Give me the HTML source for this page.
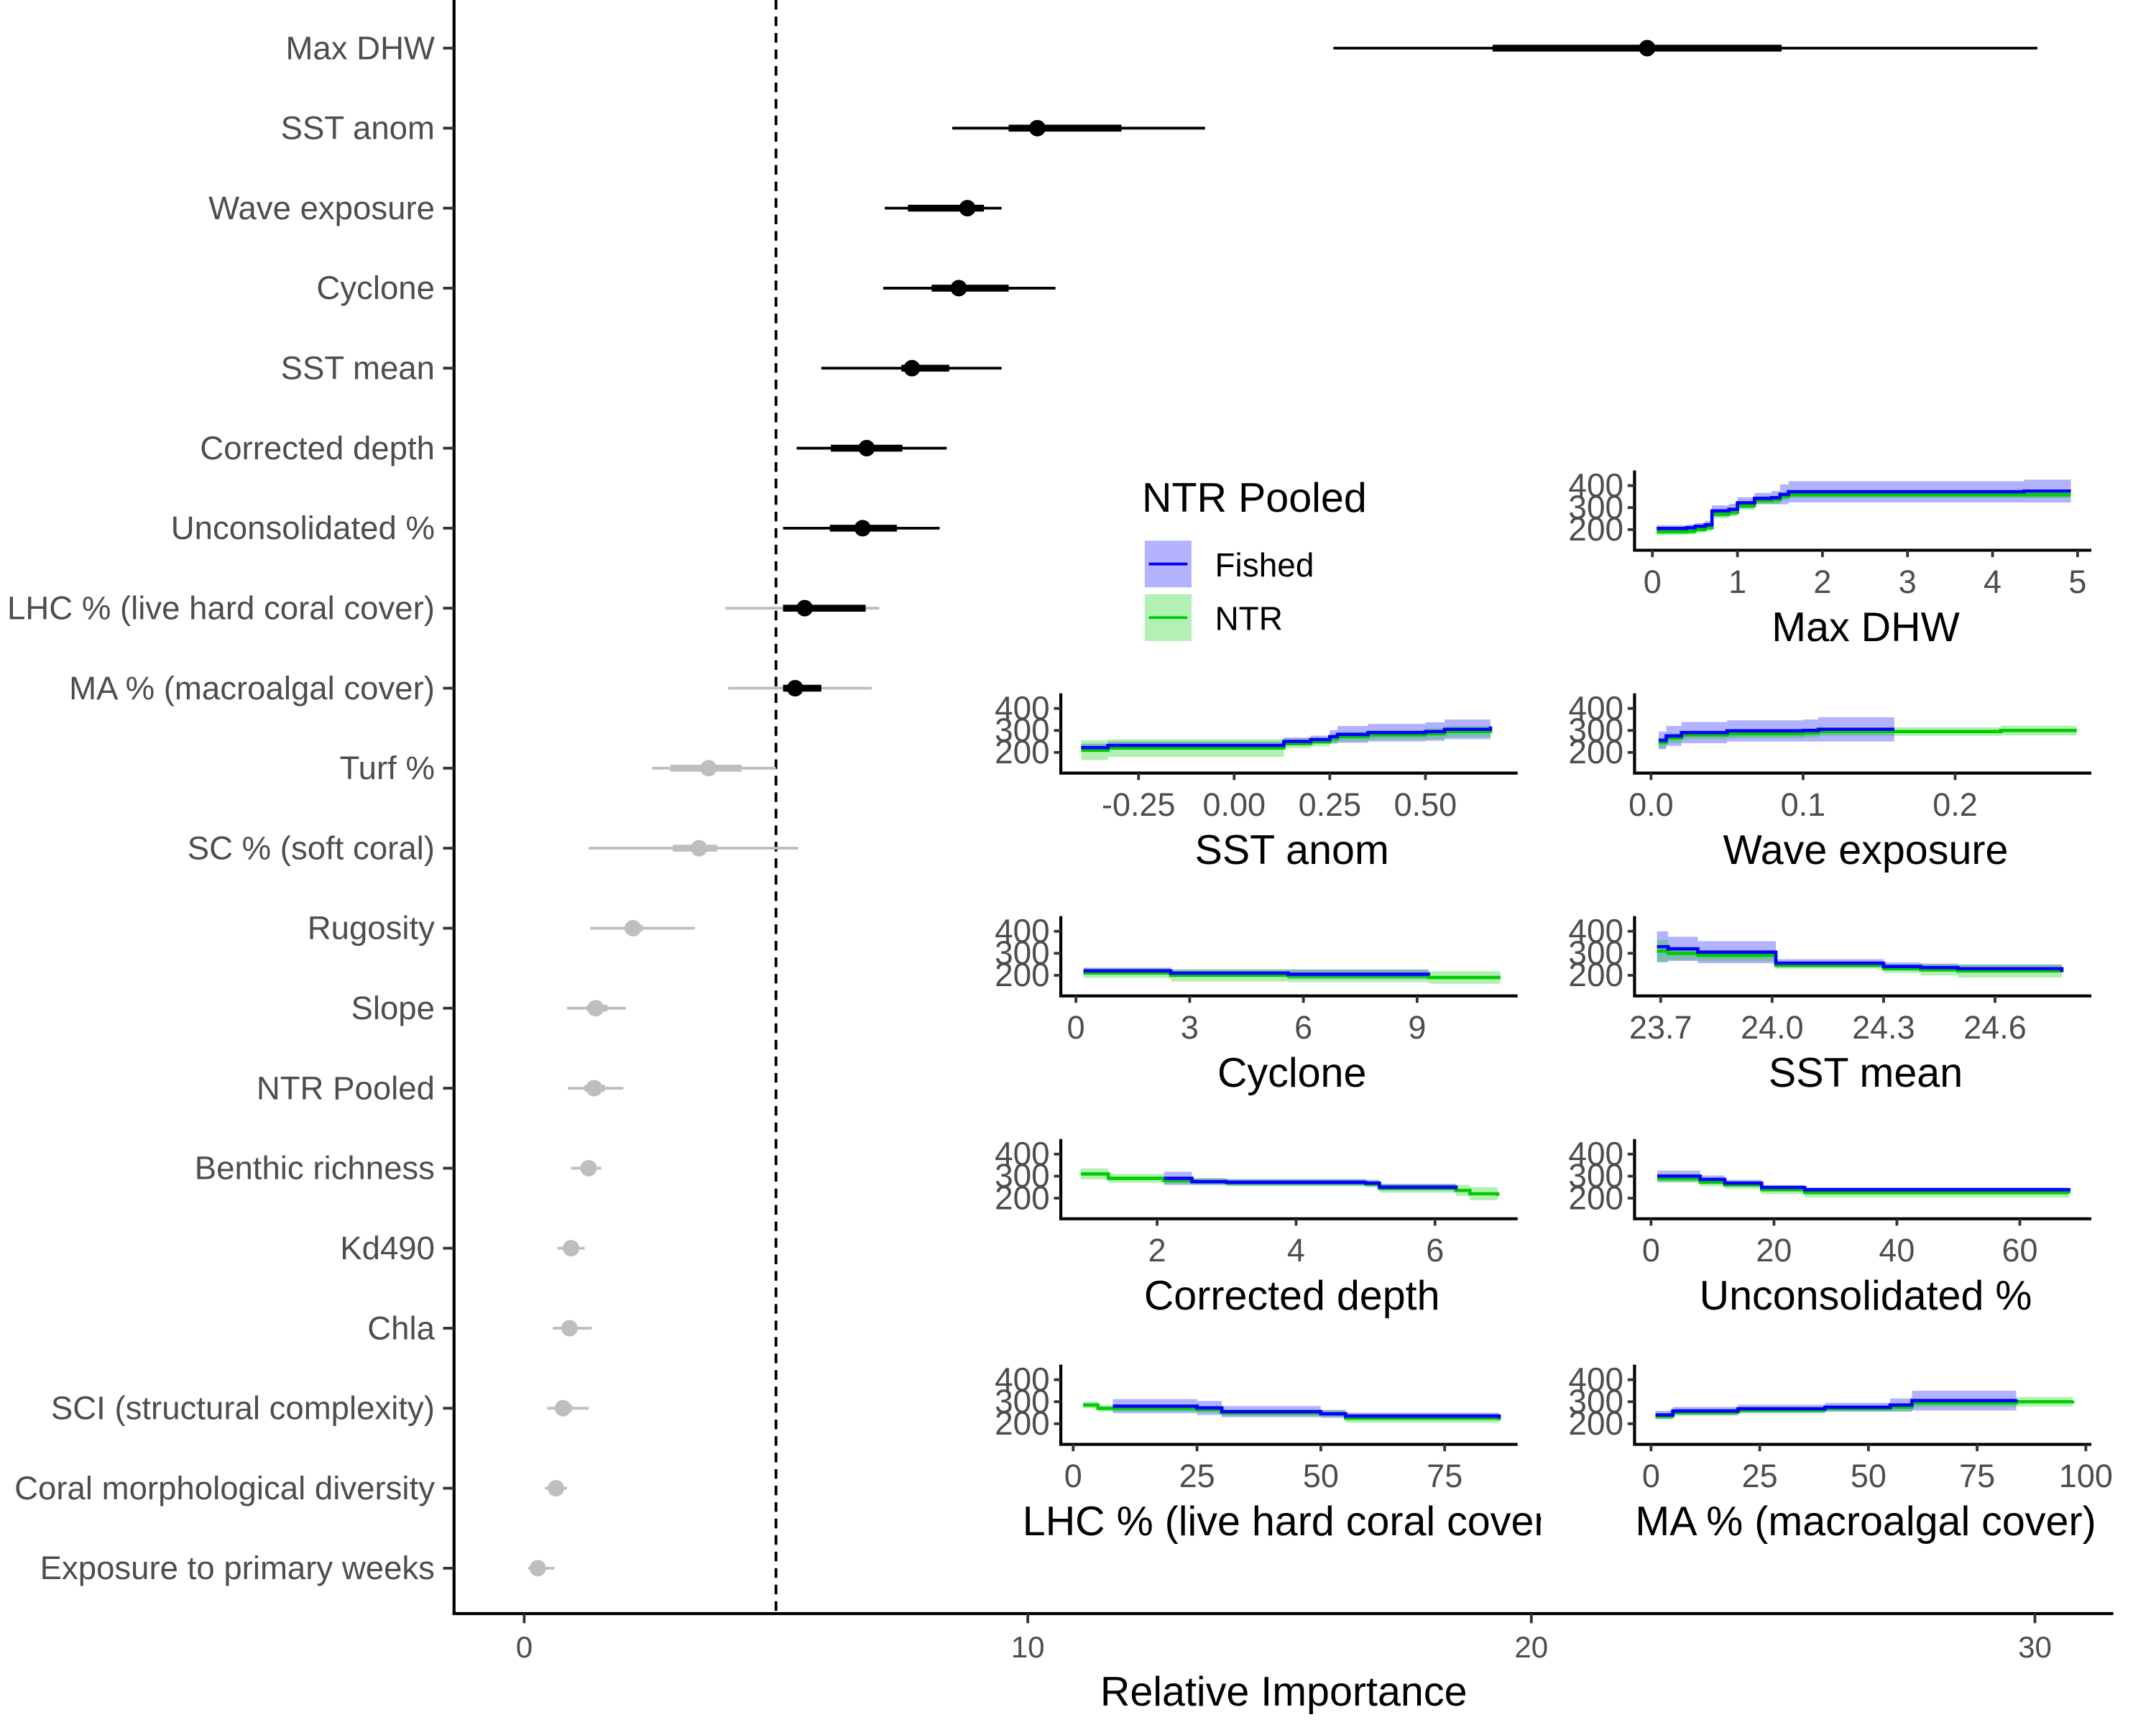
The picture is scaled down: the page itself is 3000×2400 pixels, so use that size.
<!DOCTYPE html>
<html><head><meta charset="utf-8"><style>
html,body{margin:0;padding:0;background:#fff;}
svg{display:block;font-family:"Liberation Sans",sans-serif;}
</style></head><body>
<svg id="chart" width="3000" height="2400" viewBox="0 0 1567 1254" preserveAspectRatio="none" xmlns="http://www.w3.org/2000/svg"></svg>
<script>
// ===== Main chart data =====
const varNames = ["Max DHW","SST anom","Wave exposure","Cyclone","SST mean","Corrected depth","Unconsolidated %","LHC % (live hard coral cover)","MA % (macroalgal cover)","Turf %","SC % (soft coral)","Rugosity","Slope","NTR Pooled","Benthic richness","Kd490","Chla","SCI (structural complexity)","Coral morphological diversity","Exposure to primary weeks"];
const importance = [22.3,10.19,8.8,8.63,7.7,6.8,6.72,5.57,5.38,3.66,3.47,2.16,1.42,1.39,1.28,0.93,0.9,0.77,0.63,0.27];
const innerLo = [19.23,9.62,7.62,8.09,7.49,6.09,6.07,5.14,5.14,2.9,2.95,2.0,1.25,1.2,1.15,0.8,0.78,0.62,0.52,0.18];
const innerHi = [24.97,11.86,9.13,9.62,8.44,7.51,7.4,6.78,5.9,4.32,3.83,2.35,1.65,1.6,1.42,1.08,1.05,0.95,0.75,0.4];
const outerLo = [16.07,8.5,7.16,7.13,5.9,5.41,5.14,3.99,4.05,2.54,1.28,1.31,0.85,0.87,0.93,0.66,0.57,0.46,0.41,0.08];
const outerHi = [30.05,13.52,9.48,10.55,9.48,8.39,8.25,7.05,6.9,5.0,5.44,3.39,2.02,1.97,1.53,1.2,1.34,1.28,0.85,0.6];
const xTicks = [0,10,20,30];
const threshold = 5;

// ===== Inset partial-dependence data =====
const dhwX = [0.05,0.4,0.5,0.62,0.7,0.9,1.0,1.2,1.4,1.5,1.6,2.5,4.37,4.92];
const dhwFished = [205,208,215,222,285,292,322,342,345,360,372,372,375,375];
const dhwFishedW = [15,15,15,18,25,25,25,25,30,45,48,48,52,52];
const dhwNtr = [190,192,200,208,270,278,308,332,335,350,358,358,358,358];
const dhwNtrW = [15,15,15,15,18,18,18,18,18,18,15,15,15,15];

const anomX = [-0.4,-0.33,0.1,0.13,0.2,0.25,0.27,0.35,0.5,0.55,0.66,0.67];
const anomFished = [222,232,232,250,258,272,282,290,295,305,305,318];
const anomFishedW = [18,18,18,18,18,30,38,40,42,45,45,55];
const anomNtr = [210,220,220,240,248,262,272,280,285,295,295,300];
const anomNtrW = [45,40,40,20,20,22,22,22,25,25,25,25];

const waveX = [0.005,0.01,0.02,0.05,0.1,0.11,0.16,0.2,0.23,0.28];
const waveFished = [255,275,290,298,300,305,305,null,null,null];
const waveFishedW = [40,45,48,48,50,55,55,0,0,0];
const waveNtr = [245,265,280,285,288,295,295,295,300,300];
const waveNtrW = [25,22,20,20,20,20,20,20,22,22];

const cycX = [0.2,2.5,5.6,9.3,11.2];
const cycFished = [220,210,205,200,null];
const cycFishedW = [15,15,22,25,0];
const cycNtr = [210,200,197,190,190];
const cycNtrW = [22,28,28,28,28];

const sstX = [23.69,23.72,23.8,24.0,24.01,24.3,24.4,24.5,24.78];
const sstFished = [330,320,305,305,255,240,235,230,215];
const sstFishedW = [70,55,50,50,18,18,18,18,25];
const sstNtr = [310,300,290,290,245,230,225,220,220];
const sstNtrW = [50,30,25,25,15,20,25,30,30];

const depthX = [0.9,1.3,2.1,2.5,3,5,5.2,6.3,6.5,6.9];
const depthFished = [null,null,290,275,272,268,250,240,null,null];
const depthFishedW = [0,0,30,15,15,15,15,15,0,0];
const depthNtr = [310,290,280,275,270,265,245,235,220,210];
const depthNtrW = [25,20,15,15,15,15,20,25,30,30];

const unconX = [1,8,12,18,25,68];
const unconFished = [300,285,268,248,238,232];
const unconFishedW = [25,18,15,12,10,12];
const unconNtr = [290,272,260,238,225,222];
const unconNtrW = [20,18,18,20,22,22];

const lhcX = [2,5,8,25,30,50,55,86];
const lhcFished = [null,null,280,272,255,245,235,225];
const lhcFishedW = [0,0,32,32,25,18,15,15];
const lhcNtr = [285,270,270,265,250,245,225,215];
const lhcNtrW = [15,15,15,15,15,15,20,25];

const maX = [1,5,20,40,55,60,84,97];
const maFished = [240,258,268,275,285,305,310,null];
const maFishedW = [18,18,18,20,30,45,48,0];
const maNtr = [235,252,262,270,275,295,300,305];
const maNtrW = [15,15,15,15,18,20,22,22];

const svg = document.getElementById('chart');
const NS = 'http://www.w3.org/2000/svg';
function mk(tag, attrs, parent, text){
  const e = document.createElementNS(NS, tag);
  for (const k in attrs) e.setAttribute(k, attrs[k]);
  if (text !== undefined) e.textContent = text;
  (parent || svg).appendChild(e);
  return e;
}

// ===== main axes =====
const xScale = v => 381 + v * 36.6;
const yRow = i => 35 + i * 58.16;

const dashed = mk('line',{x1:xScale(threshold),x2:xScale(threshold),y1:0,y2:1173,stroke:'#000','stroke-width':2,'stroke-dasharray':'7,5'});



const yAxis = mk('line',{x1:330,x2:330,y1:0,y2:1174,stroke:'#000','stroke-width':2.2});


const xAxis = mk('line',{x1:329,x2:1536,y1:1173,y2:1173,stroke:'#000','stroke-width':2.2});



xTicks.forEach(t=>{
  const tk = mk('line',{x1:xScale(t),x2:xScale(t),y1:1173,y2:1180,stroke:'#333','stroke-width':2});
  
  
  const lb = mk('text',{x:xScale(t),y:1205,'text-anchor':'middle','font-size':22,fill:'#4d4d4d'},null,String(t));
  
  
});
const xt = mk('text',{x:933,y:1240,'text-anchor':'middle','font-size':30,fill:'#000'},null,'Relative Importance');



varNames.forEach((n,i)=>{
  const y = yRow(i);
  const lb = mk('text',{x:316,y:y+8,'text-anchor':'end','font-size':23.8,fill:'#4d4d4d'},null,n);
  
  
  const tk = mk('line',{x1:322,x2:330,y1:y,y2:y,stroke:'#333','stroke-width':2});
  
  
  const strong = outerLo[i] > threshold;
  const thickBlack = innerLo[i] > threshold;
  const ptBlack = importance[i] > threshold;
  const gray = '#bebebe';
  const o = mk('line',{x1:xScale(outerLo[i]),x2:xScale(outerHi[i]),y1:y,y2:y,stroke:strong?'#000':gray,'stroke-width':2});
  
  
  const inn = mk('line',{x1:xScale(innerLo[i]),x2:xScale(innerHi[i]),y1:y,y2:y,stroke:thickBlack?'#000':gray,'stroke-width':5});
  
  
  const p = mk('circle',{cx:xScale(importance[i]),cy:y,r:(ptBlack && !thickBlack)?4.5:6,fill:ptBlack?'#000':gray});
  
  
});

// ===== legend =====
const lg = mk('g',{});


mk('text',{x:830,y:372,'font-size':30,fill:'#000'},lg,'NTR Pooled');
[['Fished','#b3b3ff','#0000ff',393],['NTR','#b3f0b3','#00cd00',432]].forEach(r=>{
  const g = mk('g',{},lg);
  
  
  mk('rect',{x:832,y:r[3],width:34,height:34,fill:r[1]},g);
  mk('line',{x1:835,x2:863,y1:r[3]+17,y2:r[3]+17,stroke:r[2],'stroke-width':2},g);
  mk('text',{x:883,y:r[3]+26,'font-size':24,fill:'#000'},g,r[0]);
});

// ===== inset panels =====
const panels = [
  {name:'max-dhw',title:'Max DHW',ax:1188,ab:400,xr:1520,x0:0,x1:5,p0:1201,p1:1510,ticks:[0,1,2,3,4,5],fmt:t=>String(t),X:dhwX,F:dhwFished,FW:dhwFishedW,N:dhwNtr,NW:dhwNtrW},
  {name:'sst-anom',title:'SST anom',ax:771,ab:562,xr:1103,x0:0,x1:0.5,p0:897,p1:1036,ticks:[-0.25,0,0.25,0.5],fmt:t=>t.toFixed(2),X:anomX,F:anomFished,FW:anomFishedW,N:anomNtr,NW:anomNtrW},
  {name:'wave-exposure',title:'Wave exposure',ax:1188,ab:562,xr:1520,x0:0,x1:0.2,p0:1200,p1:1421,ticks:[0,0.1,0.2],fmt:t=>t.toFixed(1),X:waveX,F:waveFished,FW:waveFishedW,N:waveNtr,NW:waveNtrW},
  {name:'cyclone',title:'Cyclone',ax:771,ab:724,xr:1103,x0:0,x1:9,p0:782,p1:1030,ticks:[0,3,6,9],fmt:t=>String(t),X:cycX,F:cycFished,FW:cycFishedW,N:cycNtr,NW:cycNtrW},
  {name:'sst-mean',title:'SST mean',ax:1188,ab:724,xr:1520,x0:23.7,x1:24.6,p0:1207,p1:1450,ticks:[23.7,24.0,24.3,24.6],fmt:t=>t.toFixed(1),X:sstX,F:sstFished,FW:sstFishedW,N:sstNtr,NW:sstNtrW},
  {name:'corrected-depth',title:'Corrected depth',ax:771,ab:886,xr:1103,x0:2,x1:6,p0:841,p1:1043,ticks:[2,4,6],fmt:t=>String(t),X:depthX,F:depthFished,FW:depthFishedW,N:depthNtr,NW:depthNtrW},
  {name:'unconsolidated',title:'Unconsolidated %',ax:1188,ab:886,xr:1520,x0:0,x1:60,p0:1200,p1:1468,ticks:[0,20,40,60],fmt:t=>String(t),X:unconX,F:unconFished,FW:unconFishedW,N:unconNtr,NW:unconNtrW},
  {name:'lhc',title:'LHC % (live hard coral cover)',ax:771,ab:1050,xr:1103,x0:0,x1:75,p0:780,p1:1050,ticks:[0,25,50,75],fmt:t=>String(t),X:lhcX,F:lhcFished,FW:lhcFishedW,N:lhcNtr,NW:lhcNtrW,clip:1120},
  {name:'ma',title:'MA % (macroalgal cover)',ax:1188,ab:1050,xr:1520,x0:0,x1:100,p0:1200,p1:1516,ticks:[0,25,50,75,100],fmt:t=>String(t),X:maX,F:maFished,FW:maFishedW,N:maNtr,NW:maNtrW}
];

let clipId = 0;
panels.forEach(P=>{
  const g = mk('g',{});
  
  
  const px = v => P.p0 + (v - P.x0) * (P.p1 - P.p0) / (P.x1 - P.x0);
  const py = v => P.ab - 15 - (v - 200) * 0.16;
  function stepPath(X, Y, W, sign){
    const pts = [];
    for (let i=0;i<X.length;i++){
      if (Y[i] === null) continue;
      const v = W ? Y[i] + sign*W[i] : Y[i];
      if (pts.length) pts.push([px(X[i]), pts[pts.length-1][1]]);
      pts.push([px(X[i]), py(v)]);
    }
    return pts;
  }
  function band(Y, W, fill, nm){
    const up = stepPath(P.X, Y, W, 1), lo = stepPath(P.X, Y, W, -1).reverse();
    const d = 'M' + up.concat(lo).map(p=>p[0].toFixed(1)+','+p[1].toFixed(1)).join('L') + 'Z';
    const e = mk('path',{d:d,fill:fill,'fill-opacity':0.3,stroke:'none'},g);
    
    
  }
  function line(Y, col, nm){
    const pts = stepPath(P.X, Y, null, 0);
    const e = mk('path',{d:'M'+pts.map(p=>p[0].toFixed(1)+','+p[1].toFixed(1)).join('L'),fill:'none',stroke:col,'stroke-width':2.4},g);
    
    
  }
  band(P.F, P.FW, '#0000ff', 'fished-band');
  band(P.N, P.NW, '#00cd00', 'ntr-band');
  line(P.N, '#00cd00', 'ntr-line');
  line(P.F, '#0000ff', 'fished-line');
  const ya = mk('line',{x1:P.ax,x2:P.ax,y1:P.ab-58,y2:P.ab+1,stroke:'#000','stroke-width':2.2},g);
  
  
  const xa = mk('line',{x1:P.ax-1,x2:P.xr,y1:P.ab,y2:P.ab,stroke:'#000','stroke-width':2.2},g);
  
  
  [200,300,400].forEach(v=>{
    mk('line',{x1:P.ax-5,x2:P.ax,y1:py(v),y2:py(v),stroke:'#333','stroke-width':2},g);
    const t = mk('text',{x:P.ax-8,y:py(v)+8,'text-anchor':'end','font-size':24,fill:'#4d4d4d'},g,String(v));
    
    
  });
  P.ticks.forEach(v=>{
    mk('line',{x1:px(v),x2:px(v),y1:P.ab,y2:P.ab+5,stroke:'#333','stroke-width':2},g);
    const t = mk('text',{x:px(v),y:P.ab+31,'text-anchor':'middle','font-size':23.5,fill:'#4d4d4d'},g,P.fmt(v));
    
    
  });
  const cx = (P.ax + P.xr)/2 + 2;
  const tt = mk('text',{x:cx,y:P.ab+66,'text-anchor':'middle','font-size':30,fill:'#000'},g,P.title);
  
  
  if (P.clip){
    clipId++;
    const cp = mk('clipPath',{id:'cp'+clipId},svg);
    mk('rect',{x:0,y:0,width:P.clip,height:1254},cp);
    tt.setAttribute('clip-path','url(#cp'+clipId+')');
  }
});
</script>
</body></html>
